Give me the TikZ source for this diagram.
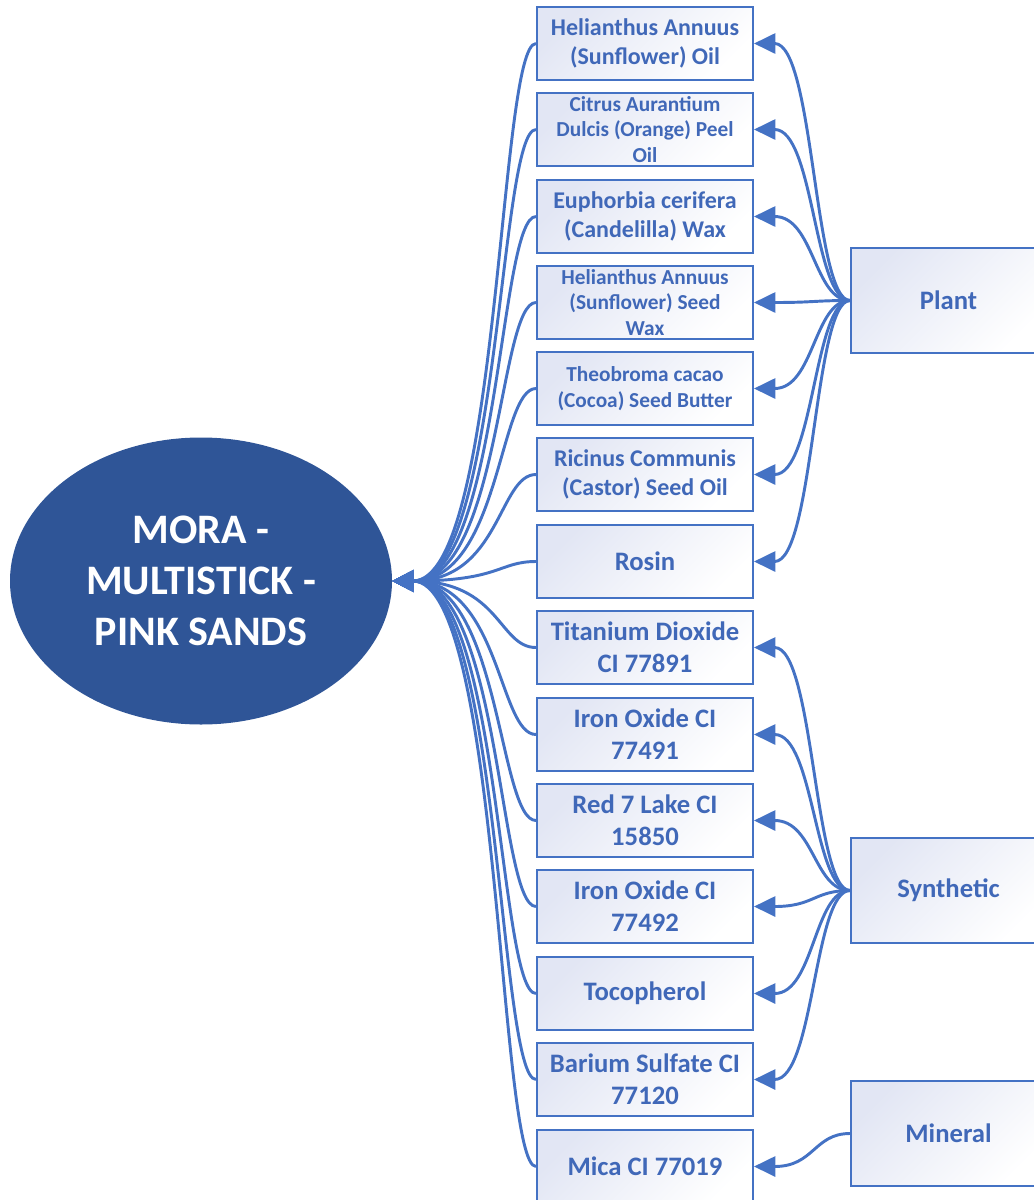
\documentclass[tikz,border=0pt]{standalone}
\usepackage{fontspec}
\setmainfont{Carlito}
\usepackage{tikz}
\usetikzlibrary{shapes.geometric,arrows.meta}

\definecolor{lineblue}{HTML}{4472C4}
\definecolor{textblue}{HTML}{4068B8}
\definecolor{moraBlue}{HTML}{2F5597}
\definecolor{boxtint}{HTML}{E2E6F4}

\tikzset{
	item/.style={shape=rectangle,draw=lineblue,line width=1.5pt,top color=boxtint,bottom color=white,shading angle=45,
		minimum width=162pt,minimum height=54.75pt,inner sep=0pt,align=center,text=textblue,font=\bfseries\fontsize{20}{24}\selectfont},
	mid/.style={font=\bfseries\fontsize{18}{21.5}\selectfont},
	small/.style={font=\bfseries\fontsize{16}{19}\selectfont},
	cat/.style={shape=rectangle,draw=lineblue,line width=1.5pt,top color=boxtint,bottom color=white,shading angle=45,
		minimum width=146.25pt,minimum height=78.75pt,inner sep=0pt,text=textblue,font=\bfseries\fontsize{20}{24}\selectfont},
	link/.style={draw=lineblue,line width=2.2pt,-{Triangle[length=16pt,width=16pt]},
		out=180,in=0,out distance=28pt,in distance=81pt},
	catlink/.style={draw=lineblue,line width=2.2pt,-{Triangle[length=16pt,width=15pt]},
		out=180,in=0,out distance=27pt,in distance=45pt}
}

\begin{document}
\begin{tikzpicture}[x=0.75pt,y=-0.75pt]
	\useasboundingbox (0,0) rectangle (1034,1200);

	\node[shape=ellipse,fill=moraBlue,minimum width=286.5pt,minimum height=215.25pt,inner sep=0pt,align=center,text=white,
		font=\bfseries\fontsize{31.5}{38}\selectfont] (mora) at (201, 581) {MORA -\\MULTISTICK -\\PINK SANDS};

	\node[item,mid]   (helianthusoil) at (645, 43.5)   {Helianthus Annuus\\(Sunflower) Oil};
	\node[item,small] (citrus)        at (645, 129.5)  {Citrus Aurantium\\Dulcis (Orange) Peel\\Oil};
	\node[item,mid]   (euphorbia)     at (645, 216.5)  {Euphorbia cerifera\\(Candelilla) Wax};
	\node[item,small] (sunflowerwax)  at (645, 302.5)  {Helianthus Annuus\\(Sunflower) Seed\\Wax};
	\node[item,small] (cocoa)         at (645, 388.5)  {Theobroma cacao\\(Cocoa) Seed Butter};
	\node[item,mid]   (castor)        at (645, 474.5)  {Ricinus Communis\\(Castor) Seed Oil};
	\node[item]       (rosin)         at (645, 561.5)  {Rosin};
	\node[item]       (titanium)      at (645, 647.5)  {Titanium Dioxide\\CI 77891};
	\node[item]       (ironA)         at (645, 734.5)  {Iron Oxide CI\\77491};
	\node[item]       (redlake)       at (645, 820.5)  {Red 7 Lake CI\\15850};
	\node[item]       (ironB)         at (645, 906.5)  {Iron Oxide CI\\77492};
	\node[item]       (tocopherol)    at (645, 993.5)  {Tocopherol};
	\node[item]       (barium)        at (645, 1079.5) {Barium Sulfate CI\\77120};
	\node[item]       (mica)          at (645, 1166.5) {Mica CI 77019};

	\node[cat] (plant)     at (948.5, 300.5)  {Plant};
	\node[cat] (synthetic) at (948.5, 890.5)  {Synthetic};
	\node[cat] (mineral)   at (948.5, 1133.5) {Mineral};

	% ingredients to product
	\draw[link] (helianthusoil) to (mora);
	\draw[link] (citrus) to (mora);
	\draw[link] (euphorbia) to (mora);
	\draw[link] (sunflowerwax) to (mora);
	\draw[link] (cocoa) to (mora);
	\draw[link] (castor) to (mora);
	\draw[link] (rosin) to (mora);
	\draw[link] (titanium) to (mora);
	\draw[link] (ironA) to (mora);
	\draw[link] (redlake) to (mora);
	\draw[link] (ironB) to (mora);
	\draw[link] (tocopherol) to (mora);
	\draw[link] (barium) to (mora);
	\draw[link] (mica) to (mora);

	% sources to ingredients
	\draw[catlink] (plant) to (helianthusoil);
	\draw[catlink] (plant) to (citrus);
	\draw[catlink] (plant) to (euphorbia);
	\draw[catlink] (plant) to (sunflowerwax);
	\draw[catlink] (plant) to (cocoa);
	\draw[catlink] (plant) to (castor);
	\draw[catlink] (plant) to (rosin);
	\draw[catlink] (synthetic) to (titanium);
	\draw[catlink] (synthetic) to (ironA);
	\draw[catlink] (synthetic) to (redlake);
	\draw[catlink] (synthetic) to (ironB);
	\draw[catlink] (synthetic) to (tocopherol);
	\draw[catlink] (synthetic) to (barium);
	\draw[catlink] (mineral) to (mica);

\end{tikzpicture}
\end{document}
